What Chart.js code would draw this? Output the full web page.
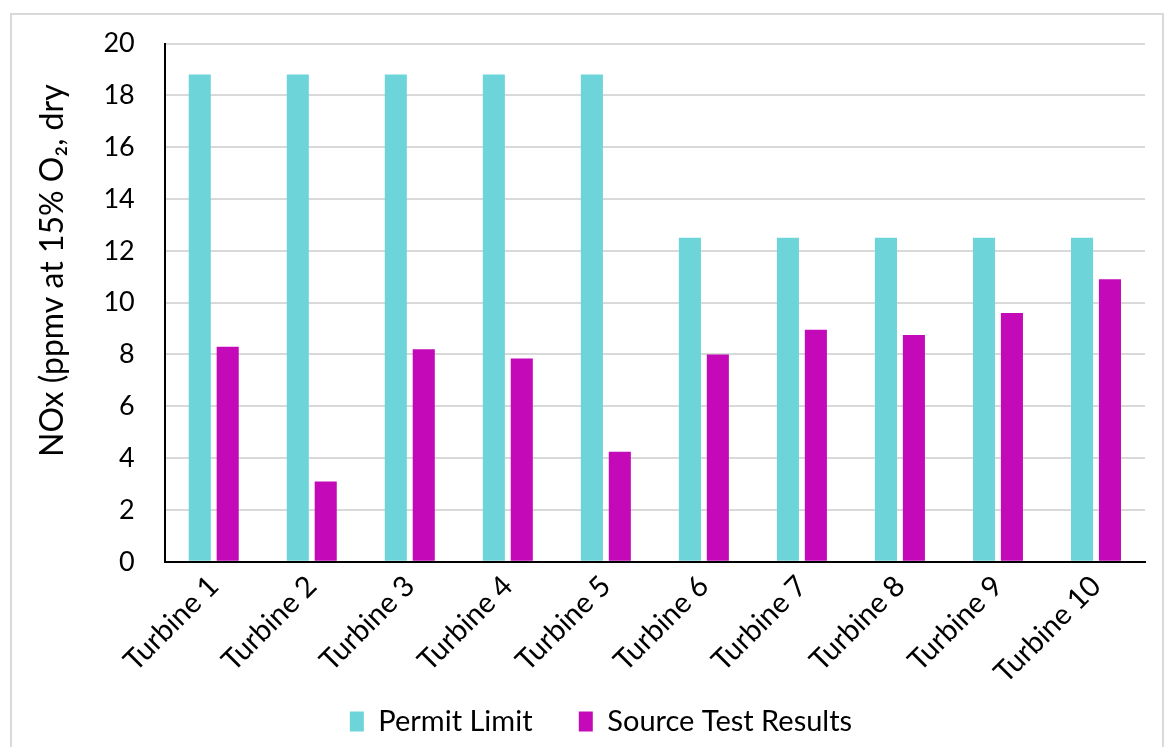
<!DOCTYPE html>
<html>
<head>
<meta charset="utf-8">
<script src="https://cdn.jsdelivr.net/npm/chart.js@4"></script>
<style>
  body { margin: 0; background: #fff; }
  #wrap { position: relative; width: 1169px; height: 747px; }
  #frame { position: absolute; left: 10px; top: 13px; width: 1154px; height: 760px; border: 2px solid #d9d9d9; box-sizing: border-box; }
  #chart { position: absolute; left: 0; top: 0; }
</style>
</head>
<body>
<div id="wrap">
  <div id="frame"></div>
  <canvas id="chart" width="1169" height="747"></canvas>
</div>
<script>
// DATA
var turbines = ['Turbine 1', 'Turbine 2', 'Turbine 3', 'Turbine 4', 'Turbine 5',
                'Turbine 6', 'Turbine 7', 'Turbine 8', 'Turbine 9', 'Turbine 10'];
var permitLimit = [18.8, 18.8, 18.8, 18.8, 18.8, 12.5, 12.5, 12.5, 12.5, 12.5];
var sourceTest  = [8.3, 3.1, 8.2, 7.85, 4.25, 8.0, 8.95, 8.75, 9.6, 10.9];
var yTicks = [0, 2, 4, 6, 8, 10, 12, 14, 16, 18, 20];

var fontFamily = 'Lato, "Open Sans", sans-serif';
Chart.defaults.font.family = fontFamily;
Chart.defaults.color = '#000';

// nudge legend a bit to the right, like the original
var legendShift = {
  id: 'legendShift',
  afterLayout: function(c) {
    c.legend.left += 12;
    c.legend.right += 12;
  }
};

var chart = new Chart(document.getElementById('chart'), {
  type: 'bar',
  data: {
    labels: turbines,
    datasets: [
      {
        label: 'Permit Limit',
        data: permitLimit,
        backgroundColor: '#6dd5d9',
        categoryPercentage: 0.57,
        barPercentage: 0.79
      },
      {
        label: 'Source Test Results',
        data: sourceTest,
        backgroundColor: '#c40ab8',
        categoryPercentage: 0.57,
        barPercentage: 0.79
      }
    ]
  },
  plugins: [legendShift],
  options: {
    responsive: false,
    animation: false,
    layout: {
      padding: { left: 33, right: 24, top: 8, bottom: 1 }
    },
    plugins: {
      legend: {
        position: 'bottom',
        labels: {
          boxWidth: 14,
          boxHeight: 20,
          padding: 10,
          font: { size: 29 },
          // wider gap between the two legend items
          generateLabels: function(c) {
            var items = Chart.defaults.plugins.legend.labels.generateLabels(c);
            items[0].text += '\u2003\u2002';
            return items;
          }
        }
      },
      tooltip: { enabled: false }
    },
    scales: {
      x: {
        grid: { display: false, drawTicks: false },
        border: { color: '#000', width: 2 },
        ticks: {
          maxRotation: 45,
          minRotation: 45,
          padding: 7,
          font: { size: 29 }
        }
      },
      y: {
        min: 0,
        max: 20,
        afterBuildTicks: function(axis) {
          axis.ticks = yTicks.map(function(v) { return { value: v }; });
        },
        grid: { color: '#d9d9d9', lineWidth: 2, drawTicks: false },
        border: { color: '#000', width: 2 },
        ticks: {
          padding: 30,
          font: { size: 27, lineHeight: 1 }
        },
        title: {
          display: true,
          text: '\u2003\u2003\u2002NOx (ppmv at 15% O\u2082, dry',
          font: { size: 32 },
          padding: { top: 0, bottom: 2 }
        }
      }
    }
  }
});
</script>
</body>
</html>
